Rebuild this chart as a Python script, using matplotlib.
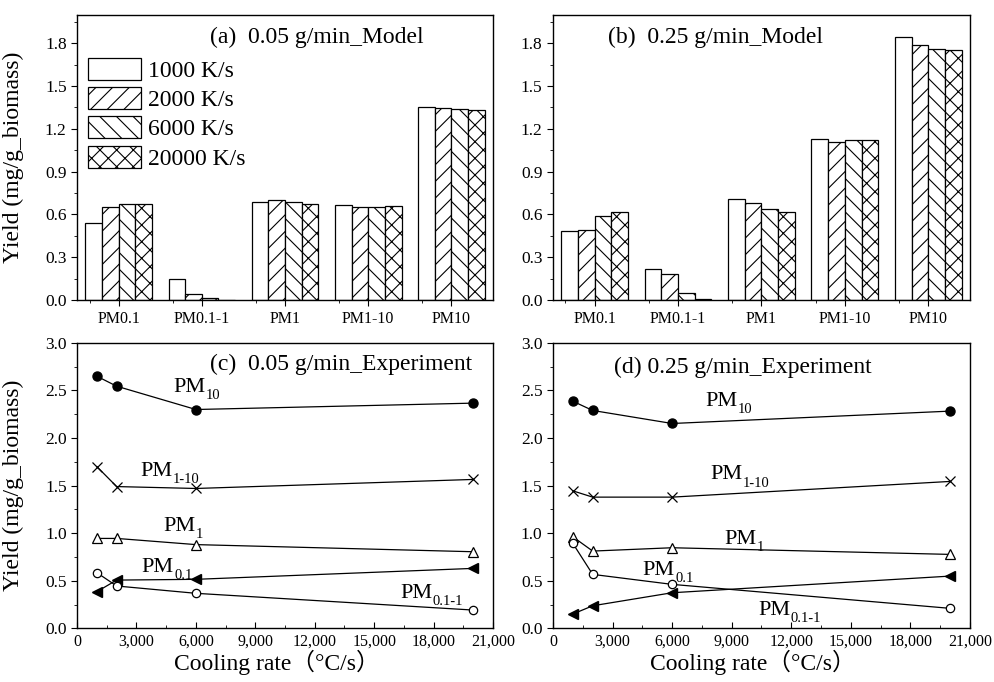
import numpy as np
import matplotlib
matplotlib.use("Agg")
import matplotlib.pyplot as plt
from matplotlib.ticker import MultipleLocator, FuncFormatter, FixedLocator

plt.rcParams['font.family'] = ['Liberation Serif', 'Noto Sans CJK SC']
plt.rcParams['hatch.linewidth'] = 0.8
plt.rcParams['axes.linewidth'] = 1.0

# ---- model data (bar charts) ----
categories = ["PM0.1", "PM0.1-1", "PM1", "PM1-10", "PM10"]
rates = ["1000 K/s", "2000 K/s", "6000 K/s", "20000 K/s"]
hatches = ["", "//", "\\\\", "xx"]

model_005 = [
    [0.54, 0.15, 0.69, 0.665, 1.35],     # 1000 K/s
    [0.655, 0.04, 0.70, 0.65, 1.345],    # 2000 K/s
    [0.67, 0.015, 0.69, 0.655, 1.34],    # 6000 K/s
    [0.675, 0.003, 0.675, 0.66, 1.335],  # 20000 K/s
]
model_025 = [
    [0.485, 0.22, 0.705, 1.13, 1.84],
    [0.49, 0.185, 0.68, 1.11, 1.79],
    [0.59, 0.05, 0.64, 1.12, 1.76],
    [0.615, 0.01, 0.62, 1.125, 1.75],
]

# ---- experiment data (line charts) ----
cooling = [1000, 2000, 6000, 20000]

exp005_pm10 = [2.65, 2.545, 2.30, 2.367]
exp005_pm1_10 = [1.70, 1.49, 1.47, 1.565]
exp005_pm1 = [0.945, 0.945, 0.88, 0.805]
exp005_tri = [0.385, 0.507, 0.515, 0.63]
exp005_circ = [0.585, 0.445, 0.368, 0.192]

exp025_pm10 = [2.387, 2.29, 2.153, 2.283]
exp025_pm1_10 = [1.445, 1.379, 1.379, 1.544]
exp025_pm1 = [0.962, 0.812, 0.847, 0.777]
exp025_tri = [0.15, 0.237, 0.374, 0.549]
exp025_circ = [0.893, 0.567, 0.462, 0.21]

fig = plt.figure(figsize=(9.94, 6.82), dpi=100)

W = 0.4185
H = 0.4185
ax_a = fig.add_axes([0.0775, 0.560, W, H])
ax_b = fig.add_axes([0.5563, 0.560, W + 0.001, H])
ax_c = fig.add_axes([0.0775, 0.0787, W, H])
ax_d = fig.add_axes([0.5563, 0.0787, W + 0.001, H])


def bar_panel(ax, data, title, title_x, show_legend):
    x = np.arange(1, len(categories) + 1)
    width = 0.2
    for i, vals in enumerate(data):
        ax.bar(x - 0.3 + i * width, vals, width, color="white", edgecolor="black",
               linewidth=0.9, hatch=hatches[i], label=rates[i])
    ax.set_xlim(0.5, 5.5)
    ax.set_ylim(0, 2.0)
    ax.set_xticks(x)
    ax.set_xticklabels(categories, fontsize=11.5)
    ax.xaxis.set_minor_locator(FixedLocator(x - 0.35))
    ax.yaxis.set_major_locator(MultipleLocator(0.3))
    ax.yaxis.set_minor_locator(MultipleLocator(0.15))
    ax.yaxis.set_major_formatter(FuncFormatter(lambda v, p: "%.1f" % v))
    ax.tick_params(axis="y", which="both", direction="out", labelsize=12.5)
    ax.tick_params(axis="y", which="major", length=4)
    ax.tick_params(axis="y", which="minor", length=2)
    ax.tick_params(axis="x", which="major", direction="out", length=4, pad=4)
    ax.tick_params(axis="x", which="minor", direction="out", length=2)
    ax.text(title_x, 1.8, title, transform=ax.get_yaxis_transform(), fontsize=17,
            va="baseline", ha="left")
    if show_legend:
        ax.legend(loc="upper left", bbox_to_anchor=(0.026, 0.849), frameon=False,
                  fontsize=17, handlelength=2.25, handleheight=1.06,
                  labelspacing=0.22, handletextpad=0.3, borderpad=0,
                  borderaxespad=0)


def pm_label(ax, x, y, sub):
    t = ax.text(x, y, "PM", fontsize=16, va="baseline", ha="left")
    ax.annotate(sub, xy=(1, 0), xycoords=t, xytext=(0.3, -1.5),
                textcoords="offset points", fontsize=10.5, va="baseline",
                ha="left")


def line_panel(ax, series, title, title_xy, labels):
    pm10, pm1_10, pm1, tri, circ = series
    kw = dict(color="black", linewidth=0.9)
    ax.plot(cooling, pm10, marker="o", markersize=6.5, markerfacecolor="black",
            markeredgecolor="black", **kw)
    ax.plot(cooling, pm1_10, marker="x", markersize=7, markeredgewidth=0.9, **kw)
    ax.plot(cooling, pm1, marker="^", markersize=6.5, markerfacecolor="white",
            markeredgecolor="black", markeredgewidth=0.9, **kw)
    ax.plot(cooling, tri, marker="<", markersize=7, markerfacecolor="black",
            markeredgecolor="black", **kw)
    ax.plot(cooling, circ, marker="o", markersize=6, markerfacecolor="white",
            markeredgecolor="black", markeredgewidth=0.9, **kw)
    ax.set_xlim(0, 21000)
    ax.set_ylim(0, 3.0)
    ax.xaxis.set_major_locator(MultipleLocator(3000))
    ax.xaxis.set_minor_locator(MultipleLocator(1500))
    ax.xaxis.set_major_formatter(FuncFormatter(lambda v, p: "{:,.0f}".format(v)))
    ax.yaxis.set_major_locator(MultipleLocator(0.5))
    ax.yaxis.set_minor_locator(MultipleLocator(0.25))
    ax.yaxis.set_major_formatter(FuncFormatter(lambda v, p: "%.1f" % v))
    ax.tick_params(axis="y", which="both", direction="out", labelsize=12.5)
    ax.tick_params(axis="y", which="major", length=4)
    ax.tick_params(axis="y", which="minor", length=2)
    ax.tick_params(axis="x", which="both", direction="in", labelsize=11.5, pad=4)
    ax.tick_params(axis="x", which="major", length=4)
    ax.tick_params(axis="x", which="minor", length=2)
    ax.text(title_xy[0], title_xy[1], title, fontsize=17, va="baseline", ha="left")
    for (lx, ly, sub) in labels:
        pm_label(ax, lx, ly, sub)
    ax.set_xlabel("Cooling rate（°C/s）", fontsize=17)
    ax.xaxis.label.set_verticalalignment("baseline")
    ax.xaxis.set_label_coords(0.48, -0.146)


bar_panel(ax_a, model_005, "(a)  0.05 g/min_Model", 0.32, True)
bar_panel(ax_b, model_025, "(b)  0.25 g/min_Model", 0.133, False)

line_panel(ax_c, [exp005_pm10, exp005_pm1_10, exp005_pm1, exp005_tri, exp005_circ],
           "(c)  0.05 g/min_Experiment", (6714, 2.72),
           [(4863, 2.486, "10"), (3180, 1.60, "1-10"), (4358, 1.025, "1"),
            (3265, 0.595, "0.1"), (16305, 0.315, "0.1-1")])
line_panel(ax_d, [exp025_pm10, exp025_pm1_10, exp025_pm1, exp025_tri, exp025_circ],
           "(d) 0.25 g/min_Experiment", (3072, 2.68),
           [(7655, 2.335, "10"), (7906, 1.565, "1-10"), (8627, 0.885, "1"),
            (4517, 0.56, "0.1"), (10340, 0.14, "0.1-1")])

for ax in (ax_a, ax_c):
    ax.set_ylabel("Yield (mg/g_biomass)", fontsize=17)
    ax.yaxis.set_label_coords(-0.127, 0.5)

fig.savefig("out.png", dpi=100)
